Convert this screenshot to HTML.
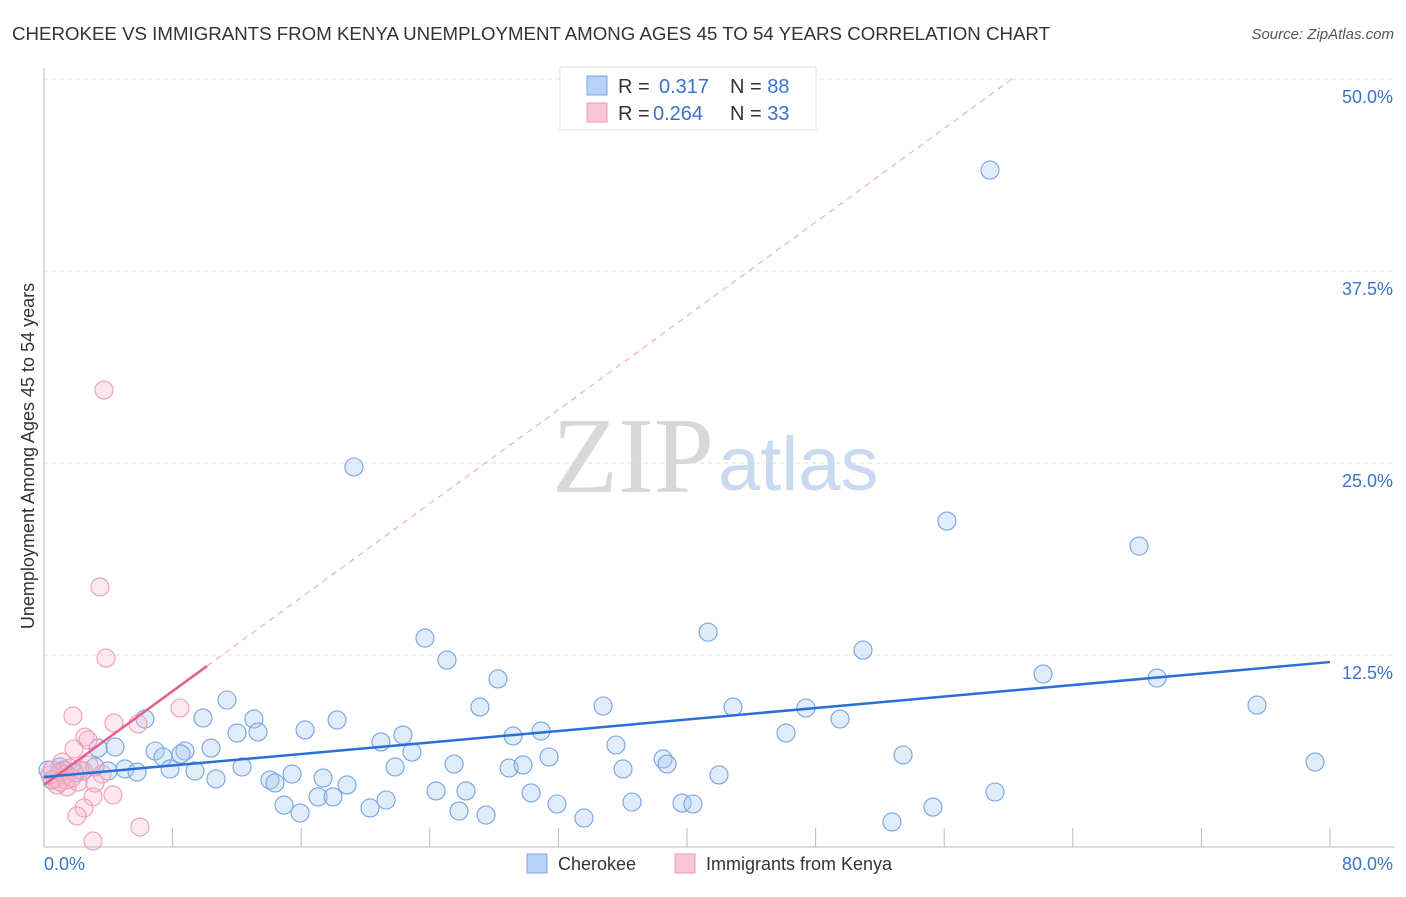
<!DOCTYPE html>
<html><head><meta charset="utf-8"><style>
body{margin:0;background:#fff;font-family:"Liberation Sans",sans-serif;}
svg text{font-family:"Liberation Sans",sans-serif;}
</style></head><body>
<svg id="chart" width="1406" height="892" viewBox="0 0 1406 892">
<text x="12" y="40" font-size="18" fill="#333" textLength="1038" lengthAdjust="spacingAndGlyphs">CHEROKEE VS IMMIGRANTS FROM KENYA UNEMPLOYMENT AMONG AGES 45 TO 54 YEARS CORRELATION CHART</text>
<text x="1394" y="39" font-size="15" fill="#555" font-style="italic" text-anchor="end">Source: ZipAtlas.com</text>
<text x="714" y="492" font-size="108" fill="#d8d8d8" text-anchor="end" style="font-family:'Liberation Serif',serif">ZIP</text>
<text x="718" y="490" font-size="76" fill="#c9d9f0">atlas</text>
<g id="grid"></g>
<g id="axes"></g>
<g id="marks"></g>
<text transform="translate(34,456) rotate(-90)" font-size="18" fill="#333" text-anchor="middle">Unemployment Among Ages 45 to 54 years</text>
<text x="44" y="870" font-size="18" fill="#3a74c9">0.0%</text>
<text x="1393" y="870" font-size="18" fill="#3a74c9" text-anchor="end">80.0%</text>
<g>
<rect x="560" y="67" width="256" height="63" fill="#fff" stroke="#ddd"/>
<rect x="587" y="76" width="20" height="19" fill="#b8d2f5" stroke="#7aa6e6"/>
<rect x="587" y="103" width="20" height="19" fill="#f9c6d6" stroke="#ec9ab4"/>
<text x="618" y="93" font-size="20" fill="#333">R = <tspan fill="#3a74c9" x="659">0.317</tspan><tspan x="730">N = </tspan><tspan fill="#3a74c9">88</tspan></text>
<text x="618" y="120" font-size="20" fill="#333">R = <tspan fill="#3a74c9" x="653">0.264</tspan><tspan x="730">N = </tspan><tspan fill="#3a74c9">33</tspan></text>
</g>
<g>
<rect x="527" y="854" width="20" height="19" fill="#b8d2f5" stroke="#7aa6e6"/>
<text x="558" y="870" font-size="18" fill="#333">Cherokee</text>
<rect x="675" y="854" width="20" height="19" fill="#f9c6d6" stroke="#ec9ab4"/>
<text x="706" y="870" font-size="18" fill="#333">Immigrants from Kenya</text>
</g>
</svg>
<script>
const yTicks=[12.5,25.0,37.5,50.0];
const yTickLabels=["12.5%","25.0%","37.5%","50.0%"];
const xTicks=[0,8,16,24,32,40,48,56,64,72,80];
const blueX=[58.85,19.28,56.17,68.12,41.31,23.70,50.95,25.07,62.15,28.24,69.24,11.38,75.46,34.78,27.12,42.86,47.40,6.28,9.89,13.06,18.23,49.52,12.01,13.31,16.24,30.92,22.33,29.18,46.16,20.96,35.58,4.42,3.36,6.91,10.39,8.77,8.52,7.40,31.42,38.51,22.89,53.44,38.76,25.51,28.93,21.84,29.80,12.32,7.84,9.39,36.02,5.04,5.79,41.99,15.43,79.07,10.70,17.36,14.06,14.37,18.85,24.39,26.25,30.30,59.16,21.28,17.05,17.98,36.58,39.69,40.37,31.91,14.93,20.28,55.30,25.82,27.50,15.93,33.59,52.75,1.00,1.24,1.93,2.43,0.25,0.50,3.17,3.98];
const blueY=[44.07,24.74,21.22,19.59,13.99,13.60,12.82,12.17,11.26,10.94,11.00,9.57,9.24,9.18,9.11,9.11,9.05,8.33,8.40,8.33,8.27,8.33,7.42,7.49,7.62,7.55,7.29,7.23,7.42,6.84,6.64,6.51,6.44,6.25,6.44,6.25,6.05,5.86,5.86,5.73,6.18,5.99,5.40,5.40,5.14,5.21,5.34,5.21,5.08,4.95,5.08,5.08,4.88,4.69,4.75,5.53,4.43,4.49,4.36,4.17,4.04,3.65,3.65,3.52,3.58,3.06,3.26,3.26,2.93,2.86,2.80,2.80,2.73,2.54,2.60,2.34,2.08,2.21,1.89,1.63,5.21,5.01,4.82,4.95,5.01,4.36,5.21,4.95];
const pinkX=[3.73,3.48,3.86,8.46,1.80,4.35,5.85,2.55,2.74,1.87,1.12,2.80,3.61,3.17,1.43,2.12,4.29,3.05,2.49,2.05,5.97,3.05,0.37,0.68,1.00,1.31,1.62,0.81,2.24,0.50,1.00,1.37,1.74];
const pinkY=[29.75,16.93,12.30,9.05,8.53,8.07,8.01,7.16,6.97,6.38,5.53,5.34,4.75,4.17,3.91,4.23,3.39,3.26,2.54,2.02,1.30,0.39,4.69,4.49,4.88,4.69,5.14,4.04,5.01,5.01,4.23,4.36,4.49];
const blueTrend=[4.56,12.04];
const pinkTrend=[4.04,65.1];
const pinkSolidEnd=10.14;
const X=v=>44+v/80*1286, Y=v=>847-v/12.5*192;
const NS="http://www.w3.org/2000/svg";
function mk(tag,attrs,parent){const e=document.createElementNS(NS,tag);for(const k in attrs)e.setAttribute(k,attrs[k]);parent.appendChild(e);return e;}
const grid=document.getElementById('grid'),axes=document.getElementById('axes'),marks=document.getElementById('marks');
yTicks.forEach((t,i)=>{
 const l=mk('line',{x1:44,x2:1395,y1:Y(t),y2:Y(t),stroke:'#ddd','stroke-dasharray':'4,4'},grid);
 
 
 const tx=mk('text',{x:1393,y:Y(t)+24,'font-size':18,fill:'#3a74c9','text-anchor':'end'},grid);
 tx.textContent=yTickLabels[i];
 
 
});
const ya=mk('line',{x1:44,x2:44,y1:68,y2:847,stroke:'#bbb'},axes);


const xa=mk('line',{x1:44,x2:1395,y1:847,y2:847,stroke:'#bbb'},axes);


xTicks.forEach(t=>{
 const l=mk('line',{x1:X(t),x2:X(t),y1:828,y2:847,stroke:'#bbb'},axes);
 
 
});
blueX.forEach((x,i)=>{
 const c=mk('circle',{cx:X(x),cy:Y(blueY[i]),r:9,fill:'rgba(170,200,242,0.35)',stroke:'#75a3e3','stroke-width':1.1},marks);
 
 
});
pinkX.forEach((x,i)=>{
 const c=mk('circle',{cx:X(x),cy:Y(pinkY[i]),r:9,fill:'rgba(247,180,202,0.3)',stroke:'#ee9db7','stroke-width':1.1},marks);
 
 
});
const pv=x=>pinkTrend[0]+(pinkTrend[1]-pinkTrend[0])*x/80;
const xEnd=(50-pinkTrend[0])/(pinkTrend[1]-pinkTrend[0])*80;
const pd=mk('line',{x1:X(pinkSolidEnd),y1:Y(pv(pinkSolidEnd)),x2:X(xEnd),y2:Y(50),stroke:'#eaa0b8','stroke-width':1,'stroke-dasharray':'6,5'},marks);


const ps=mk('line',{x1:X(0),y1:Y(pv(0)),x2:X(pinkSolidEnd),y2:Y(pv(pinkSolidEnd)),stroke:'#e4608c','stroke-width':2.5},marks);


const bl=mk('line',{x1:X(0),y1:Y(blueTrend[0]),x2:X(80),y2:Y(blueTrend[1]),stroke:'#2a6fd6','stroke-width':2.5},marks);


</script>
</body></html>
